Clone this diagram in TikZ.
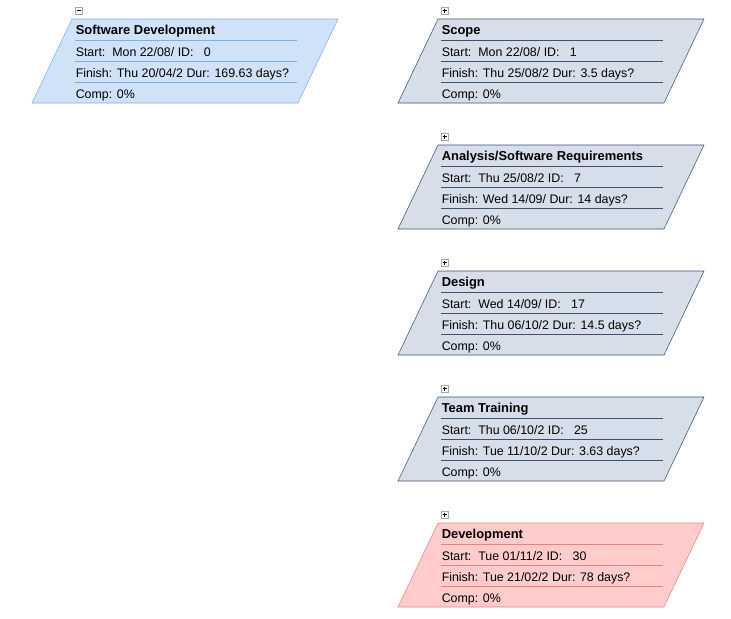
\documentclass[tikz,border=0pt]{standalone}
\usepackage{fontspec}
\setmainfont{Liberation Sans}

\definecolor{sumfill}{RGB}{207,226,248}
\definecolor{sumline}{RGB}{125,176,232}
\definecolor{taskfill}{RGB}{214,222,234}
\definecolor{taskline}{RGB}{62,80,110}
\definecolor{critfill}{RGB}{255,204,204}
\definecolor{critline}{RGB}{240,128,128}

\tikzset{
	tasktitle/.style={anchor=base west,inner sep=0pt,font=\fontsize{9.7}{11}\selectfont\bfseries},
	taskrow/.style={anchor=base west,inner sep=0pt,font=\fontsize{9.3}{11}\selectfont},
	toggle/.style={draw=gray!70,fill=white,line width=0.5pt}
}

% #1 name, #2 x, #3 y, #4 colour, #5 title, #6 start row, #7 finish row, #8 toggle sign
\newcommand{\taskbox}[8]{%
	\begin{scope}[shift={(#2,#3)}]
	\draw[draw=#4line,fill=#4fill] (0,0) -- (266,0) -- (226,84) -- (-40,84) -- cycle;
	\draw[#4line] (3,21) -- (225,21) (3,42) -- (225,42) (3,63) -- (225,63);
	\draw[toggle] (3,-12) rectangle (10,-5);
	\draw[line width=0.6pt] (4.5,-8.5) -- (8.5,-8.5) #8;
	\node[tasktitle] (#1-title) at (3.5,15.5) {#5};
	\node[taskrow] (#1-start) at (3.5,37) {#6};
	\node[taskrow] (#1-finish) at (3.5,58) {#7};
	\node[taskrow] (#1-comp) at (3.5,79) {Comp: 0\%};
	\end{scope}}

\begin{document}
\begin{tikzpicture}[x=0.75pt,y=-0.75pt]
	\useasboundingbox (0,0) rectangle (731,618);
	\taskbox{softdev}{72}{19}{sum}{Software Development}
		{Start:\ \ Mon 22/08/ ID:\ \ \ 0}{Finish: Thu 20/04/2 Dur: 169.63 days?}{}
	\taskbox{scope}{438}{19}{task}{Scope}
		{Start:\ \ Mon 22/08/ ID:\ \ \ 1}{Finish: Thu 25/08/2 Dur: 3.5 days?}{(6.5,-10.5) -- (6.5,-6.5)}
	\taskbox{analysis}{438}{145}{task}{Analysis/Software Requirements}
		{Start:\ \ Thu 25/08/2 ID:\ \ \ 7}{Finish: Wed 14/09/ Dur: 14 days?}{(6.5,-10.5) -- (6.5,-6.5)}
	\taskbox{design}{438}{271}{task}{Design}
		{Start:\ \ Wed 14/09/ ID:\ \ \ 17}{Finish: Thu 06/10/2 Dur: 14.5 days?}{(6.5,-10.5) -- (6.5,-6.5)}
	\taskbox{training}{438}{397}{task}{Team Training}
		{Start:\ \ Thu 06/10/2 ID:\ \ \ 25}{Finish: Tue 11/10/2 Dur: 3.63 days?}{(6.5,-10.5) -- (6.5,-6.5)}
	\taskbox{development}{438}{523}{crit}{Development}
		{Start:\ \ Tue 01/11/2 ID:\ \ \ 30}{Finish: Tue 21/02/2 Dur: 78 days?}{(6.5,-10.5) -- (6.5,-6.5)}
\end{tikzpicture}
\end{document}
